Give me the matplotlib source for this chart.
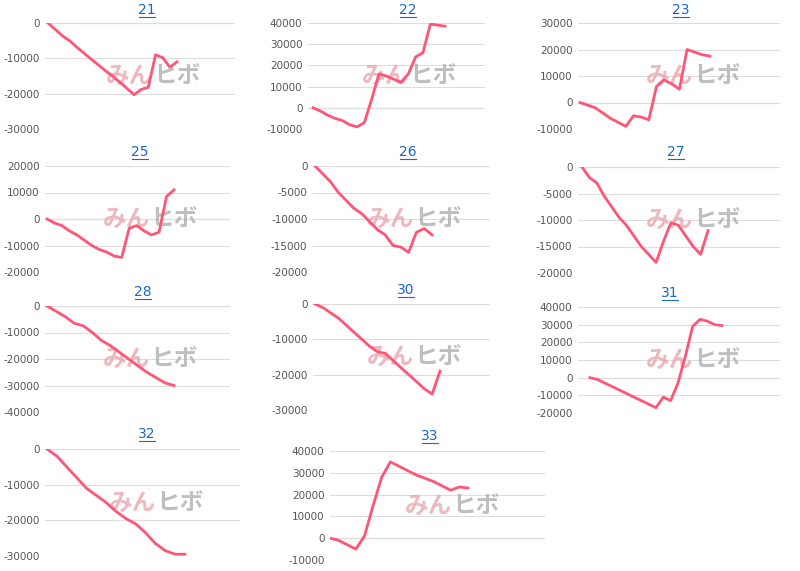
import matplotlib
matplotlib.use("Agg")
import matplotlib.pyplot as plt

plt.rcParams['font.family'] = ['DejaVu Sans', 'Noto Sans CJK JP']

titles = ["21", "22", "23", "25", "26", "27", "28", "30", "31", "32", "33"]
s21 = [0,-1800,-3600,-5000,-6800,-8500,-10200,-11800,-13500,-15000,-16700,-18500,-20300,-18800,-18200,-9000,-9800,-12500,-11000]
s22 = [0,-1500,-3500,-5000,-6000,-8000,-9000,-7000,4000,16000,15000,13500,12000,16000,24000,26000,39500,39000,38500]
s23 = [0,-1000,-2000,-4000,-6000,-7500,-9000,-5000,-5500,-6500,6000,8500,7000,5000,20000,19000,18000,17500]
s25 = [0,-1500,-2500,-4500,-6000,-8000,-10000,-11500,-12500,-14000,-14500,-3500,-2500,-4500,-6000,-5000,8500,11000]
s26 = [0,-1500,-3000,-5000,-6500,-8000,-9000,-10500,-12000,-13000,-15000,-15300,-16300,-12500,-11800,-13000]
s27 = [0,-2000,-3000,-5500,-7500,-9500,-11000,-13000,-15000,-16500,-18000,-14000,-10500,-11000,-13000,-15000,-16500,-12000]
s28 = [0,-2000,-4000,-6500,-7500,-10000,-13000,-15000,-17500,-20000,-22500,-25000,-27000,-29000,-30000]
s30 = [0,-1000,-2500,-4000,-6000,-8000,-10000,-12000,-13500,-14000,-16000,-18000,-20000,-22000,-24000,-25500,-19000]
s31 = [0,-1000,-3000,-5000,-7000,-9000,-11000,-13000,-15000,-17000,-11000,-13000,-3000,12000,29000,33000,32000,30000,29500]
s32 = [0,-2000,-5000,-8000,-11000,-13000,-15000,-17500,-19500,-21000,-23500,-26500,-28500,-29500,-29500]
s33 = [0,-1000,-3000,-5000,1000,15000,28000,35000,33000,31000,29000,27500,26000,24000,22000,23500,23000]
series = [s21, s22, s23, s25, s26, s27, s28, s30, s31, s32, s33]
yticks = [[0,-10000,-20000,-30000],[40000,30000,20000,10000,0,-10000],[30000,20000,10000,0,-10000],
          [20000,10000,0,-10000,-20000],[0,-5000,-10000,-15000,-20000],[0,-5000,-10000,-15000,-20000],
          [0,-10000,-20000,-30000,-40000],[0,-10000,-20000,-30000],[40000,30000,20000,10000,0,-10000,-20000],
          [0,-10000,-20000,-30000],[40000,30000,20000,10000,0,-10000]]

# layout in pixels: axL, axR, yTop, yBot, dataStartX, dataEndX, titleX, titleY
layout = [(45,235,23,129,48,177,147,10),(308,485,23,129,313,445,408,10),(578,780,23,129,580,710,681,10),
          (45,230,166,272,47,174,140,152),(313,490,166,272,315,432,408,152),(578,780,167,273,582,708,676,152),
          (45,230,306,412,47,174,143,292),(313,490,304,410,315,440,406,290),(578,780,307,413,590,722,670,293),
          (45,240,449,556,47,185,147,434),(330,545,451,560,330,468,430,436)]

W, H = 800, 571
fig = plt.figure(figsize=(8, 5.71), dpi=100)
fig.patch.set_facecolor('white')
for t, s, yt, (aL, aR, yT, yB, dS, dE, tx, ty) in zip(titles, series, yticks, layout):
    ax = fig.add_axes([aL/W, 1-yB/H, (aR-aL)/W, (yB-yT)/H])
    n = len(s)
    step = (dE-dS)/(n-1)
    x0 = -(dS-aL)/step
    x1 = (n-1) + (aR-dE)/step
    ax.plot(range(n), s, color='#ff5577', lw=2, solid_joinstyle='round', zorder=3)
    ax.set_xlim(x0, x1)
    ax.set_ylim(min(yt), max(yt))
    ax.set_yticks(yt)
    ax.set_yticklabels([str(v) for v in yt], fontsize=7.5, color='#555555')
    ax.set_xticks([])
    ax.tick_params(axis='y', length=0, pad=4)
    for sp in ax.spines.values():
        sp.set_visible(False)
    ax.grid(axis='y', color='#dddddd', lw=0.8)
    ax.axhline(0, color='#cccccc', lw=0.8, zorder=1)
    ax.text(0.57, 0.5, "みん", transform=ax.transAxes, fontsize=17, fontweight='bold', style='italic',
            color='#e8a0a8', alpha=0.75, ha='right', va='center', family=['Noto Sans CJK JP'], zorder=2)
    ax.text(0.57, 0.5, "ヒボ", transform=ax.transAxes, fontsize=17, fontweight='bold', style='italic',
            color='#aaaaaa', alpha=0.75, ha='left', va='center', family=['Noto Sans CJK JP'], zorder=2)
    fig.text(tx/W, 1-ty/H, t, fontsize=10, color='#1a66cc', ha='center', va='center')
    fig.add_artist(plt.Line2D([(tx-8)/W, (tx+8)/W], [1-(ty+7)/H]*2, color='#1a66cc', lw=0.8))

fig.savefig('out.png', dpi=100)
